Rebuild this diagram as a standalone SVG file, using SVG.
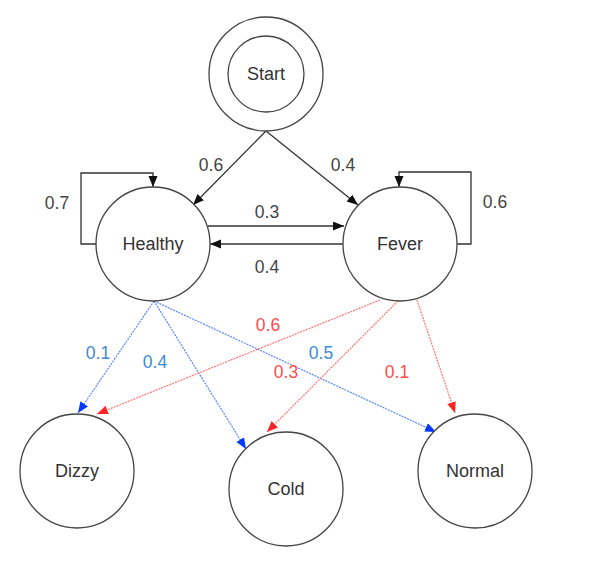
<svg xmlns="http://www.w3.org/2000/svg" width="614" height="574" viewBox="0 0 614 574">
<style>
.node{fill:#fff;stroke:#444;stroke-width:1.3}
.nt{font-family:"Liberation Sans",Arial,sans-serif;font-size:18px;fill:#333;text-anchor:middle}
.lb{font-family:"Liberation Sans",Arial,sans-serif;font-size:17.5px;text-anchor:middle}
.k{fill:#444}
.b{fill:#3d8ad6}
.r{fill:#ff4a4a}
.ek{fill:none;stroke:#333;stroke-width:1.3}
.eb{fill:none;stroke:#5a86ff;stroke-width:1.2;stroke-dasharray:2 1}
.er{fill:none;stroke:#ff7373;stroke-width:1.2;stroke-dasharray:2 1}
</style>
<defs>
<marker id="ak" markerUnits="userSpaceOnUse" markerWidth="12" markerHeight="10" refX="11" refY="4.5" orient="auto"><path d="M0,0 L11,4.5 L0,9 z" fill="#111"/></marker>
<marker id="ab" markerUnits="userSpaceOnUse" markerWidth="12" markerHeight="10" refX="11" refY="4.5" orient="auto"><path d="M0,0 L11,4.5 L0,9 z" fill="#0038ff"/></marker>
<marker id="ar" markerUnits="userSpaceOnUse" markerWidth="12" markerHeight="10" refX="11" refY="4.5" orient="auto"><path d="M0,0 L11,4.5 L0,9 z" fill="#ff2424"/></marker>
</defs>
<rect width="614" height="574" fill="#fff"/>
<g id="connectors">
<line class="ek" x1="266" y1="131" x2="193" y2="205" marker-end="url(#ak)"/>
<line class="ek" x1="266" y1="131" x2="358" y2="205" marker-end="url(#ak)"/>
<polyline class="ek" points="96,244 81,244 81,173 153,173 153,187" marker-end="url(#ak)"/>
<polyline class="ek" points="457,244 471,244 471,172 399,172 399,187" marker-end="url(#ak)"/>
<line class="ek" x1="208" y1="226" x2="344" y2="226" marker-end="url(#ak)"/>
<line class="ek" x1="343" y1="244" x2="210" y2="244" marker-end="url(#ak)"/>
<line class="eb" x1="154" y1="301" x2="78" y2="413" marker-end="url(#ab)"/>
<line class="eb" x1="154" y1="301" x2="246" y2="449" marker-end="url(#ab)"/>
<line class="eb" x1="154" y1="301" x2="436" y2="432" marker-end="url(#ab)"/>
<line class="er" x1="380" y1="300" x2="97" y2="414" marker-end="url(#ar)"/>
<line class="er" x1="398" y1="301" x2="267" y2="432" marker-end="url(#ar)"/>
<line class="er" x1="417" y1="300" x2="455" y2="413" marker-end="url(#ar)"/>
<text class="lb k" x="211" y="171">0.6</text>
<text class="lb k" x="343" y="171">0.4</text>
<text class="lb k" x="57" y="209">0.7</text>
<text class="lb k" x="495" y="208">0.6</text>
<text class="lb k" x="267" y="218">0.3</text>
<text class="lb k" x="267" y="273">0.4</text>
<text class="lb b" x="98" y="359">0.1</text>
<text class="lb b" x="155" y="368">0.4</text>
<text class="lb r" x="268" y="331">0.6</text>
<text class="lb b" x="321" y="359">0.5</text>
<text class="lb r" x="286" y="378">0.3</text>
<text class="lb r" x="397" y="378">0.1</text>
</g>
<g id="start"><circle class="node" cx="266" cy="74" r="57"/><circle class="node" cx="266" cy="74" r="38"/><text class="nt" x="266" y="80">Start</text></g>
<g id="healthy"><circle class="node" cx="153" cy="244" r="57"/><text class="nt" x="153" y="250">Healthy</text></g>
<g id="fever"><circle class="node" cx="400" cy="244" r="57"/><text class="nt" x="400" y="250">Fever</text></g>
<g id="dizzy"><circle class="node" cx="77" cy="471" r="57"/><text class="nt" x="77" y="477">Dizzy</text></g>
<g id="cold"><circle class="node" cx="286" cy="489" r="57"/><text class="nt" x="286" y="495">Cold</text></g>
<g id="normal"><circle class="node" cx="475" cy="471" r="57"/><text class="nt" x="475" y="477">Normal</text></g>
</svg>
